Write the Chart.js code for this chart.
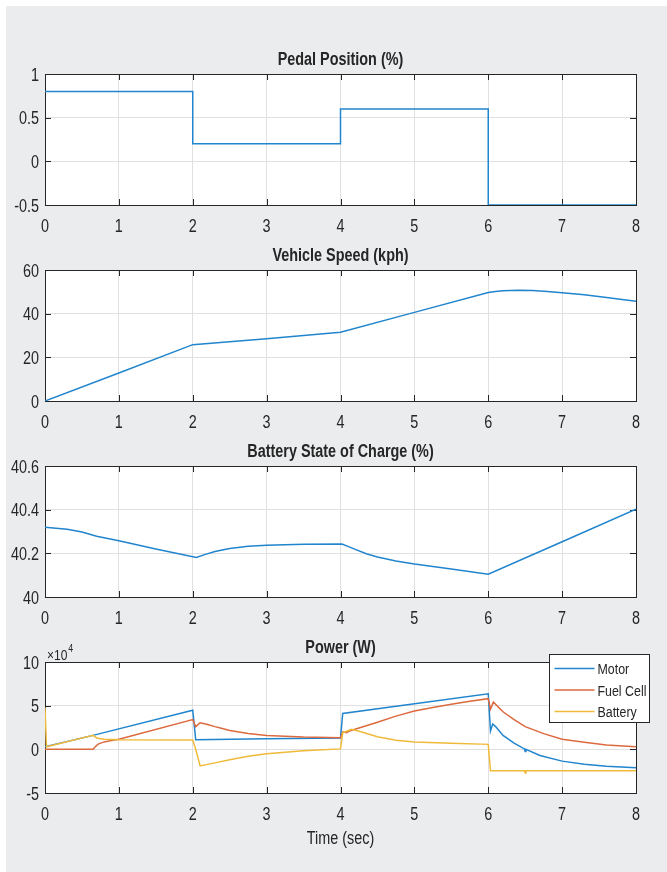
<!DOCTYPE html>
<html>
<head>
<meta charset="utf-8">
<title>Fuel cell vehicle run</title>
<script src="https://cdn.jsdelivr.net/npm/chart.js@4.4.1/dist/chart.umd.min.js"></script>
<style>
  html, body { margin: 0; padding: 0; background: #fff; }
  #fig { position: absolute; left: 6px; top: 6px; width: 661px; height: 866px; background: #ebecee; }
  canvas { position: absolute; left: 0; }
</style>
</head>
<body>
<div id="fig"></div>
<canvas id="pedalChart" width="667" height="196" style="top:40px"></canvas>
<canvas id="speedChart" width="667" height="196" style="top:236px"></canvas>
<canvas id="socChart" width="667" height="196" style="top:432px"></canvas>
<canvas id="powerChart" width="667" height="244" style="top:628px"></canvas>
<script>
// Pedal position (step input, value holds until next time)
const pedalTime = [0, 2, 4, 6, 8];
const pedalPos = [0.8, 0.2, 0.6, -0.5, -0.5];

// Vehicle speed, kph
const speedTime = [0, 1, 2, 3, 4, 5, 6, 6.1, 6.2, 6.4, 6.6, 6.8, 7, 7.3, 7.6, 8];
const speedKph = [0, 12.8, 25.8, 28.5, 31.5, 40.6, 49.7, 50.2, 50.5, 50.7, 50.6, 50.2, 49.6, 48.7, 47.4, 45.7];

// Battery state of charge, %
const socTime = [0, 0.3, 0.5, 0.7, 1, 1.5, 2.05, 2.15, 2.3, 2.5, 2.75, 3, 3.5, 4.02, 4.1, 4.2, 4.35, 4.5, 4.75,
  5, 5.5, 6, 7, 8];
const socPct = [40.32, 40.31, 40.298, 40.278, 40.258, 40.22, 40.181, 40.193, 40.208, 40.222, 40.232, 40.237,
  40.242, 40.243, 40.232, 40.218, 40.198, 40.183, 40.165, 40.151, 40.128, 40.104, 40.253, 40.402];

// Power split, W
const motorTime = [0, 0.65, 2, 2.04, 3, 4, 4.03, 6, 6.03, 6.06, 6.1, 6.2, 6.35, 6.49, 6.5, 6.51, 6.7, 7, 7.3,
  7.6, 8];
const motorW = [3000, 16000, 44700, 11000, 12000, 13000, 41000, 63500, 21000, 29000, 26000, 16000, 7000,
  500, -2500, 0, -7000, -13500, -17000, -19500, -21000];

const fuelTime = [0, 0.65, 0.68, 0.72, 0.8, 0.9, 1, 2, 2.04, 2.1, 2.2, 2.3, 2.4, 2.5, 2.75, 3, 3.5, 4,
  4.03, 4.08, 4.12, 4.25, 4.5, 4.75, 5, 5.25, 5.5, 5.75, 6,
  6.03, 6.07, 6.2, 6.35, 6.5, 6.75, 7, 7.3, 7.6, 8];
const fuelW = [0, 0, 3000, 6000, 8500, 10000, 11500, 34000, 26000, 30500, 28500, 26000, 23800, 21500, 18000,
  15800, 14000, 13300, 20000, 19000, 21000, 24500, 31000, 38000, 44000, 48000, 51500, 55000, 58000,
  46000, 54000, 43000, 34000, 26000, 18000, 11500, 8000, 5000, 3000];

const battTime = [0, 0.02, 0.65, 0.7, 0.8, 1, 2, 2.04, 2.1, 2.3, 2.5, 2.75, 3, 3.5, 4, 4.03, 4.15, 4.3, 4.5,
  4.75, 5, 5.5, 6, 6.03, 6.49, 6.5, 6.51, 8];
const battW = [48000, 3000, 16000, 13000, 11500, 11000, 10700, 0, -19000, -15500, -12000, -8000, -5000, -1500,
  500, 19000, 23000, 19500, 14500, 10500, 8500, 7000, 5700, -24500, -24500, -27000, -24500, -24500];

const FONT = "'Liberation Sans', Arial, sans-serif";
const SQUEEZE = 0.8;
const INK = '#262626';
const GRID = '#e0e0e0';
const BLUE = '#2185cd';
const RED = '#dc6a3f';
const YELLOW = '#efba3a';

function points(t, v) {
  return t.map((x, i) => ({ x: x, y: v[i] }));
}

function trimNum(v) {
  return String(+v.toFixed(3));
}

// narrow text: draw with a horizontal squeeze
function narrowText(ctx, text, x, y, align, font) {
  ctx.save();
  ctx.font = font;
  ctx.textAlign = align;
  ctx.textBaseline = 'alphabetic';
  ctx.translate(x, y);
  ctx.scale(SQUEEZE, 1);
  ctx.fillText(text, 0, 0);
  ctx.restore();
}

// white axes, box with inward ticks, tick labels, title, labels and legend
const matlabAxes = {
  id: 'matlabAxes',
  beforeDraw(chart) {
    const { ctx, chartArea: a } = chart;
    ctx.save();
    ctx.fillStyle = '#fff';
    ctx.fillRect(a.left, a.top, a.right - a.left, a.bottom - a.top);
    ctx.restore();
  },
  beforeDatasetsDraw(chart) {
    const { ctx, chartArea: a, scales } = chart;
    const len = 6;
    ctx.save();
    ctx.strokeStyle = INK;
    ctx.lineWidth = 1;
    ctx.beginPath();
    scales.x.ticks.forEach(t => {
      const px = Math.round(scales.x.getPixelForValue(t.value)) + 0.5;
      ctx.moveTo(px, a.bottom); ctx.lineTo(px, a.bottom - len);
      ctx.moveTo(px, a.top); ctx.lineTo(px, a.top + len);
    });
    scales.y.ticks.forEach(t => {
      const py = Math.round(scales.y.getPixelForValue(t.value)) + 0.5;
      ctx.moveTo(a.left, py); ctx.lineTo(a.left + len, py);
      ctx.moveTo(a.right, py); ctx.lineTo(a.right - len, py);
    });
    ctx.stroke();
    ctx.strokeRect(a.left + 0.5, a.top + 0.5, a.right - a.left, a.bottom - a.top);
    ctx.restore();
  },
  afterDraw(chart, args, opts) {
    const { ctx, chartArea: a, scales } = chart;
    const cx = (a.left + a.right) / 2;
    const tickFont = '18px ' + FONT;
    ctx.save();
    ctx.fillStyle = INK;

    scales.x.ticks.forEach(t => {
      narrowText(ctx, trimNum(t.value), scales.x.getPixelForValue(t.value), a.bottom + 26.5, 'center', tickFont);
    });
    const fmt = opts.yFormat || trimNum;
    scales.y.ticks.forEach(t => {
      narrowText(ctx, fmt(t.value), a.left - 6, scales.y.getPixelForValue(t.value) + 6.5, 'right', tickFont);
    });

    narrowText(ctx, opts.title, cx, a.top - 9, 'center', 'bold 18px ' + FONT);

    if (opts.xlabel) {
      narrowText(ctx, opts.xlabel, cx, a.bottom + 51, 'center', '18px ' + FONT);
    }

    if (opts.exponent) {
      const base = '\u00d710';
      ctx.font = '15px ' + FONT;
      const w = ctx.measureText(base).width * SQUEEZE;
      narrowText(ctx, base, a.left + 2, a.top - 2, 'left', '15px ' + FONT);
      narrowText(ctx, opts.exponent, a.left + 3 + w, a.top - 10, 'left', '11px ' + FONT);
    }

    if (opts.legend) {
      const bx = 549.5, by = a.top - 7.5, bw = 100, bh = 68;
      ctx.fillStyle = '#fff';
      ctx.fillRect(bx, by, bw, bh);
      ctx.strokeStyle = INK;
      ctx.lineWidth = 1;
      ctx.strokeRect(bx, by, bw, bh);
      chart.data.datasets.forEach((ds, i) => {
        const y = by + 14 + i * 21.5;
        ctx.strokeStyle = ds.borderColor;
        ctx.lineWidth = 1.5;
        ctx.beginPath();
        ctx.moveTo(bx + 5, y);
        ctx.lineTo(bx + 45, y);
        ctx.stroke();
        ctx.fillStyle = INK;
        narrowText(ctx, ds.label, bx + 48, y + 5.5, 'left', '15.5px ' + FONT);
      });
    }
    ctx.restore();
  }
};

function makeChart(id, datasets, yMin, yMax, yStep, xHeight, axesOpts) {
  return new Chart(document.getElementById(id), {
    type: 'line',
    data: { datasets: datasets },
    plugins: [matlabAxes],
    options: {
      responsive: false,
      animation: false,
      events: [],
      layout: { padding: { top: 34, right: 31, bottom: 0, left: 0 } },
      elements: {
        point: { radius: 0 },
        line: { borderWidth: 1.5, tension: 0 }
      },
      scales: {
        x: {
          type: 'linear',
          min: 0,
          max: 8,
          grid: { color: GRID, drawTicks: false },
          border: { display: false },
          ticks: { stepSize: 1, display: false },
          afterFit(s) { s.height = xHeight; }
        },
        y: {
          min: yMin,
          max: yMax,
          grid: { color: GRID, drawTicks: false },
          border: { display: false },
          ticks: { stepSize: yStep, display: false },
          afterFit(s) { s.width = 45; }
        }
      },
      plugins: {
        legend: { display: false },
        tooltip: { enabled: false },
        matlabAxes: axesOpts
      }
    }
  });
}

makeChart('pedalChart', [{
  label: 'Pedal',
  data: points(pedalTime, pedalPos),
  borderColor: BLUE,
  stepped: 'before'
}], -0.5, 1, 0.5, 31, { title: 'Pedal Position (%)' });

makeChart('speedChart', [{
  label: 'Speed',
  data: points(speedTime, speedKph),
  borderColor: BLUE
}], 0, 60, 20, 31, { title: 'Vehicle Speed (kph)' });

makeChart('socChart', [{
  label: 'SOC',
  data: points(socTime, socPct),
  borderColor: BLUE
}], 40, 40.6, 0.2, 31, { title: 'Battery State of Charge (%)' });

makeChart('powerChart', [
  { label: 'Motor', data: points(motorTime, motorW), borderColor: BLUE, order: 3 },
  { label: 'Fuel Cell', data: points(fuelTime, fuelW), borderColor: RED, order: 2 },
  { label: 'Battery', data: points(battTime, battW), borderColor: YELLOW, order: 1 }
], -50000, 100000, 50000, 79, {
  title: 'Power (W)',
  xlabel: 'Time (sec)',
  exponent: '4',
  legend: true,
  yFormat: v => String(v / 1e4)
});
</script>
</body>
</html>
